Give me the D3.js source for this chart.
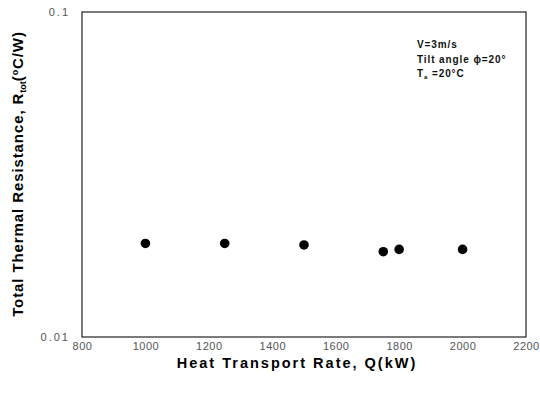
<!DOCTYPE html>
<html>
<head>
<meta charset="utf-8">
<script src="https://cdn.jsdelivr.net/npm/d3@7"></script>
<style>
  html, body { margin: 0; padding: 0; background: #fff; }
  svg { display: block; }
</style>
</head>
<body>
<svg id="chart" width="540" height="394"></svg>
<script>
// Heat transport rate (kW) and total thermal resistance (°C/W)
const heatRate = [1000, 1250, 1500, 1750, 1800, 2000];
const resistance = [0.0194, 0.0194, 0.0192, 0.0183, 0.0186, 0.0186];
const xTicks = [800, 1000, 1200, 1400, 1600, 1800, 2000, 2200];
const yTicks = [0.01, 0.1];
const yTickLabels = ["0.01", "0.1"];
const conditions = ["V=3m/s", "Tilt angle \u03D5=20\u00B0"];

const svg = d3.select("#chart");
const plotLeft = 82, plotRight = 526, plotTop = 12, plotBottom = 337;

const x = d3.scaleLinear().domain([800, 2200]).range([plotLeft, plotRight]);
const y = d3.scaleLog().domain([0.01, 0.1]).range([plotBottom, plotTop]);

// frame
svg.append("rect")
  .attr("x", plotLeft).attr("y", plotTop)
  .attr("width", plotRight - plotLeft).attr("height", plotBottom - plotTop)
  .attr("fill", "none").attr("stroke", "#222").attr("stroke-width", 1.2);

// x axis labels
const xAxis = svg.append("g")
  .attr("transform", `translate(0,${plotBottom})`)
  .call(d3.axisBottom(x).tickValues(xTicks).tickSize(0).tickPadding(5).tickFormat(d3.format("d")));
xAxis.select(".domain").remove();
xAxis.selectAll("text")
  .attr("font-family", "Liberation Sans, Arial, sans-serif")
  .attr("font-size", 11).attr("fill", "#555")
  .attr("letter-spacing", 0.5);

// y axis labels
const yAxis = svg.append("g")
  .attr("transform", `translate(${plotLeft},0)`)
  .call(d3.axisLeft(y).tickValues(yTicks).tickSize(0).tickPadding(12)
    .tickFormat((d, i) => yTickLabels[i]));
yAxis.select(".domain").remove();
yAxis.selectAll("text")
  .attr("font-family", "Liberation Sans, Arial, sans-serif")
  .attr("font-size", 11).attr("fill", "#555")
  .attr("letter-spacing", 2);

// data points
svg.append("g").selectAll("circle")
  .data(heatRate.map((q, i) => ({ q, r: resistance[i] })))
  .join("circle")
  .attr("cx", d => x(d.q))
  .attr("cy", d => y(d.r))
  .attr("r", 4.8)
  .attr("fill", "#000");

// axis titles
svg.append("text")
  .attr("x", 297).attr("y", 368)
  .attr("text-anchor", "middle")
  .attr("font-family", "Liberation Sans, Arial, sans-serif")
  .attr("font-weight", "bold").attr("font-size", 14.5)
  .attr("letter-spacing", 2)
  .text("Heat Transport Rate, Q(kW)");

const yTitle = svg.append("text")
  .attr("transform", "translate(23,174) rotate(-90)")
  .attr("text-anchor", "middle")
  .attr("font-family", "Liberation Sans, Arial, sans-serif")
  .attr("font-weight", "bold").attr("font-size", 15)
  .attr("letter-spacing", 0.9);
yTitle.append("tspan").text("Total Thermal Resistance, R");
yTitle.append("tspan").attr("font-size", 9).attr("dy", 3).attr("letter-spacing", 0).text("tot");
yTitle.append("tspan").attr("dy", -3).text("(");
yTitle.append("tspan").attr("font-size", 9).attr("dy", -5).text("o");
yTitle.append("tspan").attr("dy", 5).text("C/W)");

// operating conditions
const note = svg.append("g")
  .attr("font-family", "Liberation Sans, Arial, sans-serif")
  .attr("font-weight", "bold").attr("font-size", 10).attr("fill", "#111")
  .attr("letter-spacing", 0.9);
conditions.forEach((t, i) => {
  note.append("text").attr("x", 417).attr("y", 48 + i * 15).text(t);
});
const ta = note.append("text").attr("x", 417).attr("y", 77);
ta.append("tspan").text("T");
ta.append("tspan").attr("font-size", 6).attr("dy", 2).text("a");
ta.append("tspan").attr("dy", -2).text(" =20\u00B0C");
</script>
</body>
</html>
